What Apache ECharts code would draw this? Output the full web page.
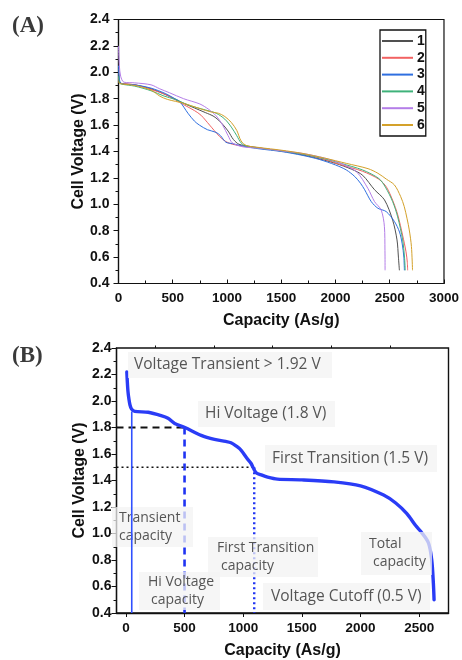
<!DOCTYPE html>
<html>
<head>
<meta charset="utf-8">
<script src="https://cdn.jsdelivr.net/npm/echarts@6.0.0/dist/echarts.min.js"></script>
<style>
  html, body { margin: 0; padding: 0; background: #fff; }
  #chart { width: 462px; height: 660px; }
</style>
</head>
<body>
<div id="chart"></div>
<script>
// ---- (A) six discharge runs: [capacity (As/g), cell voltage (V)] ----
const run1 = [[0, 2.00], [10, 1.93], [30, 1.915], [150, 1.905], [300, 1.875], [450, 1.825], [600, 1.765], [700, 1.73], [800, 1.695], [880, 1.665], [950, 1.615], [1010, 1.555], [1060, 1.49], [1110, 1.455], [1200, 1.44], [1400, 1.415], [1600, 1.39], [1800, 1.355], [2000, 1.31], [2150, 1.265], [2250, 1.22], [2360, 1.11], [2452, 1.033], [2527, 0.88], [2567, 0.73], [2580, 0.60], [2589, 0.50]]
const run2 = [[0, 1.96], [10, 1.92], [30, 1.915], [150, 1.905], [300, 1.87], [450, 1.825], [600, 1.755], [700, 1.71], [760, 1.675], [840, 1.60], [930, 1.515], [990, 1.475], [1050, 1.455], [1150, 1.44], [1300, 1.425], [1500, 1.405], [1700, 1.38], [1900, 1.34], [2050, 1.30], [2250, 1.25], [2400, 1.19], [2470, 1.13], [2527, 1.03], [2574, 0.92], [2620, 0.76], [2650, 0.64], [2662, 0.56], [2665, 0.50]]
const run3 = [[0, 2.05], [8, 1.95], [25, 1.915], [150, 1.905], [300, 1.88], [430, 1.84], [520, 1.80], [563, 1.78], [640, 1.69], [700, 1.63], [746, 1.60], [820, 1.565], [899, 1.545], [940, 1.52], [990, 1.47], [1050, 1.46], [1150, 1.44], [1300, 1.42], [1500, 1.40], [1700, 1.37], [1850, 1.34], [2000, 1.298], [2100, 1.26], [2178, 1.21], [2230, 1.16], [2269, 1.11], [2330, 1.02], [2391, 0.97], [2467, 0.945], [2543, 0.87], [2590, 0.79], [2615, 0.70], [2630, 0.60], [2635, 0.50]]
const run4 = [[0, 1.97], [10, 1.92], [30, 1.91], [150, 1.895], [300, 1.86], [420, 1.82], [520, 1.795], [650, 1.75], [800, 1.715], [900, 1.69], [980, 1.645], [1040, 1.585], [1090, 1.52], [1130, 1.465], [1180, 1.44], [1300, 1.425], [1500, 1.405], [1700, 1.38], [1900, 1.345], [2050, 1.31], [2250, 1.26], [2400, 1.195], [2460, 1.13], [2527, 1.02], [2573, 0.905], [2619, 0.73], [2636, 0.60], [2643, 0.50]]
const run5 = [[0, 2.20], [8, 2.05], [20, 1.97], [50, 1.925], [150, 1.92], [300, 1.905], [380, 1.875], [470, 1.845], [600, 1.80], [750, 1.76], [830, 1.72], [900, 1.67], [960, 1.60], [1010, 1.52], [1050, 1.465], [1150, 1.435], [1300, 1.425], [1500, 1.405], [1700, 1.385], [1900, 1.35], [2050, 1.31], [2193, 1.247], [2299, 1.12], [2360, 1.02], [2421, 0.957], [2451, 0.83], [2456, 0.65], [2457, 0.50]]
const run6 = [[0, 1.93], [10, 1.915], [150, 1.90], [300, 1.865], [380, 1.82], [450, 1.795], [600, 1.765], [750, 1.725], [850, 1.70], [920, 1.69], [980, 1.665], [1040, 1.62], [1090, 1.56], [1130, 1.48], [1180, 1.445], [1300, 1.43], [1500, 1.41], [1700, 1.385], [1900, 1.35], [2100, 1.31], [2300, 1.27], [2391, 1.235], [2470, 1.19], [2543, 1.147], [2600, 1.06], [2634, 0.982], [2660, 0.89], [2680, 0.806], [2700, 0.68], [2710, 0.50]]
const runNames = ['1', '2', '3', '4', '5', '6']
const runColors = ['#505050', '#f26262', '#2f6fe0', '#3fb27a', '#b47ee8', '#d4a12a']

// ---- (B) annotated reference curve ----
const refCurve = [[8, 2.22], [12, 2.15], [18, 2.07], [25, 2.02], [35, 1.97], [48, 1.94], [76, 1.922], [190, 1.915], [300, 1.89], [359, 1.87], [416, 1.83], [503, 1.80], [642, 1.74], [755, 1.71], [850, 1.695], [896, 1.685], [940, 1.66], [981, 1.63], [1030, 1.57], [1066, 1.53], [1109, 1.46], [1160, 1.44], [1208, 1.425], [1292, 1.41], [1500, 1.405], [1773, 1.39], [2000, 1.36], [2197, 1.29], [2300, 1.23], [2395, 1.15], [2470, 1.06], [2514, 1.015], [2579, 0.93], [2607, 0.80], [2621, 0.626], [2627, 0.50]]
const transientCap = 50
const hiVoltCap = 500
const firstTransCap = 1094
const transientV = 1.92
const hiVoltV = 1.8
const firstTransV = 1.5

const capTicksB = [0, 500, 1000, 1500, 2000, 2500]
const capMinorB = [250, 750, 1250, 1750, 2250]
const capMinB = -80
const capMaxB = 2750

const chart = echarts.init(document.getElementById('chart'), null, { renderer: 'canvas' })

const boldFont = { fontFamily: 'Liberation Sans', fontWeight: 'bold', color: '#111' }
const axisLine = { show: true, onZero: false, lineStyle: { color: '#111', width: 1.2 } }

const voltAxis = (gridIndex, gap, margin) => ({
  type: 'value',
  gridIndex,
  min: 0.4,
  max: 2.4,
  interval: 0.2,
  name: 'Cell Voltage (V)',
  nameLocation: 'middle',
  nameGap: gap,
  nameMoveOverlap: false,
  nameTextStyle: { ...boldFont, fontSize: 16 },
  axisLine,
  axisTick: { show: true, inside: false, length: 5, lineStyle: { color: '#111' } },
  minorTick: { show: true, splitNumber: 2, length: 3, lineStyle: { color: '#111' } },
  splitLine: { show: false },
  axisLabel: { ...boldFont, fontSize: 14, margin, formatter: v => v.toFixed(1) }
})

const topSeries = [run1, run2, run3, run4, run5, run6].map((d, i) => ({
  name: runNames[i],
  type: 'line',
  xAxisIndex: 0,
  yAxisIndex: 0,
  data: d,
  smooth: 0.3,
  symbol: 'none',
  lineStyle: { width: 1, color: runColors[i] },
  itemStyle: { color: runColors[i] }
}))

const refLine = (name, data, color, width, type, z) => ({
  name,
  type: 'line',
  xAxisIndex: 1,
  yAxisIndex: 1,
  data,
  symbol: 'none',
  z: z || 2,
  lineStyle: { color, width, type }
})

const bottomSeries = [
  {
    name: 'ref',
    type: 'line',
    xAxisIndex: 1,
    yAxisIndex: 1,
    data: refCurve,
    smooth: 0.3,
    symbol: 'none',
    lineStyle: { width: 3.4, color: '#2a3cf6', cap: 'round' }
  },
  refLine('transient', [[transientCap, transientV], [transientCap, 0.4]], '#3050ff', 1.6, 'solid', 20),
  refLine('hiH', [[capMinB, hiVoltV], [hiVoltCap, hiVoltV]], '#111', 2, [7, 5]),
  refLine('hiV', [[hiVoltCap, hiVoltV], [hiVoltCap, 0.4]], '#1f33f2', 2.6, [7, 5]),
  refLine('ftH', [[capMinB, firstTransV], [firstTransCap, firstTransV]], '#111', 1.6, [2, 3]),
  refLine('ftV', [[firstTransCap, firstTransV], [firstTransCap, 0.4]], '#1f33f2', 2.4, [2, 3])
]

// annotation boxes (pixel layout) drawn over the lines with a translucent fill
const boxes = [
  { x: 128, y: 352, w: 204, h: 26, lines: [['Voltage Transient > 1.92 V', 134]], size: 15.5 },
  { x: 198, y: 401, w: 137, h: 26, lines: [['Hi Voltage (1.8 V)', 205]], size: 15.5 },
  { x: 265, y: 445, w: 172, h: 27, lines: [['First Transition (1.5 V)', 272]], size: 15.5 },
  { x: 112, y: 507, w: 81, h: 40, lines: [['Transient', 119], ['capacity', 119]], size: 14 },
  { x: 208, y: 537, w: 110, h: 40, lines: [['First Transition', 217], ['capacity', 221]], size: 14 },
  { x: 139, y: 572, w: 81, h: 38, lines: [['Hi Voltage', 148], ['capacity', 151]], size: 14 },
  { x: 361, y: 532, w: 71, h: 43, lines: [['Total', 369], ['capacity', 373]], size: 14 },
  { x: 263, y: 583, w: 167, h: 27, lines: [['Voltage Cutoff (0.5 V)', 271]], size: 15.5 }
]
const graphic = [
  { type: 'text', left: 12, top: 15, z: 30, style: { text: '(A)', font: 'bold 23px "Liberation Serif"', fill: '#3a3a3a' } },
  { type: 'text', left: 12, top: 345, z: 30, style: { text: '(B)', font: 'bold 23px "Liberation Serif"', fill: '#3a3a3a' } }
]
boxes.forEach(b => {
  graphic.push({
    type: 'rect', z: 10,
    shape: { x: b.x, y: b.y, width: b.w, height: b.h },
    style: { fill: 'rgba(243,243,243,0.74)' }
  })
  const n = b.lines.length
  b.lines.forEach((ln, k) => {
    const cy = b.y + b.h / 2 + (k - (n - 1) / 2) * 18
    graphic.push({
      type: 'text', z: 11, x: ln[1], y: cy,
      style: { text: ln[0], font: b.size + 'px "Open Sans"', fill: '#555', verticalAlign: 'middle', align: 'left' }
    })
  })
})

const option = {
  animation: false,
  backgroundColor: '#fff',
  grid: [
    { left: 118.5, top: 19.5, width: 328, height: 264, show: true, borderColor: '#111', borderWidth: 1.2, backgroundColor: 'transparent' },
    { left: 116.5, top: 348, width: 332, height: 265.5, show: true, borderColor: '#111', borderWidth: 1.4, backgroundColor: 'transparent' }
  ],
  legend: {
    data: runNames,
    orient: 'vertical',
    left: 380,
    top: 30,
    width: 46,
    padding: [3, 1, 3, 2],
    itemGap: 0.8,
    itemWidth: 31,
    itemHeight: 2,
    icon: 'rect',
    borderColor: '#111',
    borderWidth: 1.3,
    selectedMode: false,
    textStyle: { ...boldFont, fontSize: 14, lineHeight: 16, padding: [0, 0, 0, -1] }
  },
  xAxis: [
    {
      type: 'value', gridIndex: 0, min: 0, max: 3000, interval: 500,
      name: 'Capacity (As/g)', nameLocation: 'middle', nameGap: 29,
      nameTextStyle: { ...boldFont, fontSize: 16 },
      axisLine,
      axisTick: { show: true, inside: true, length: 4, lineStyle: { color: '#111' } },
      minorTick: { show: true, splitNumber: 2, length: 3, lineStyle: { color: '#111' } },
      splitLine: { show: false },
      axisLabel: { ...boldFont, fontSize: 13.5, margin: 8, formatter: v => String(v) }
    },
    {
      type: 'value', gridIndex: 1, min: capMinB, max: capMaxB,
      name: 'Capacity (As/g)', nameLocation: 'middle', nameGap: 30,
      nameTextStyle: { ...boldFont, fontSize: 16 },
      axisLine: { show: true, onZero: false, lineStyle: { color: '#111', width: 1.4 } },
      axisTick: { show: true, inside: false, length: 4, customValues: capTicksB, lineStyle: { color: '#111' } },
      splitLine: { show: false },
      axisLabel: { ...boldFont, fontSize: 13.5, margin: 8, customValues: capTicksB, formatter: v => String(v) }
    },
    {
      type: 'value', gridIndex: 1, min: capMinB, max: capMaxB,
      axisLine: { show: false, onZero: false },
      axisTick: { show: true, inside: false, length: 2.5, customValues: capMinorB, lineStyle: { color: '#111' } },
      splitLine: { show: false },
      axisLabel: { show: false }
    }
  ],
  yAxis: [voltAxis(0, 32, 9), voltAxis(1, 29, 5)],
  series: [...topSeries, ...bottomSeries],
  graphic
}

chart.setOption(option)
</script>
</body>
</html>
